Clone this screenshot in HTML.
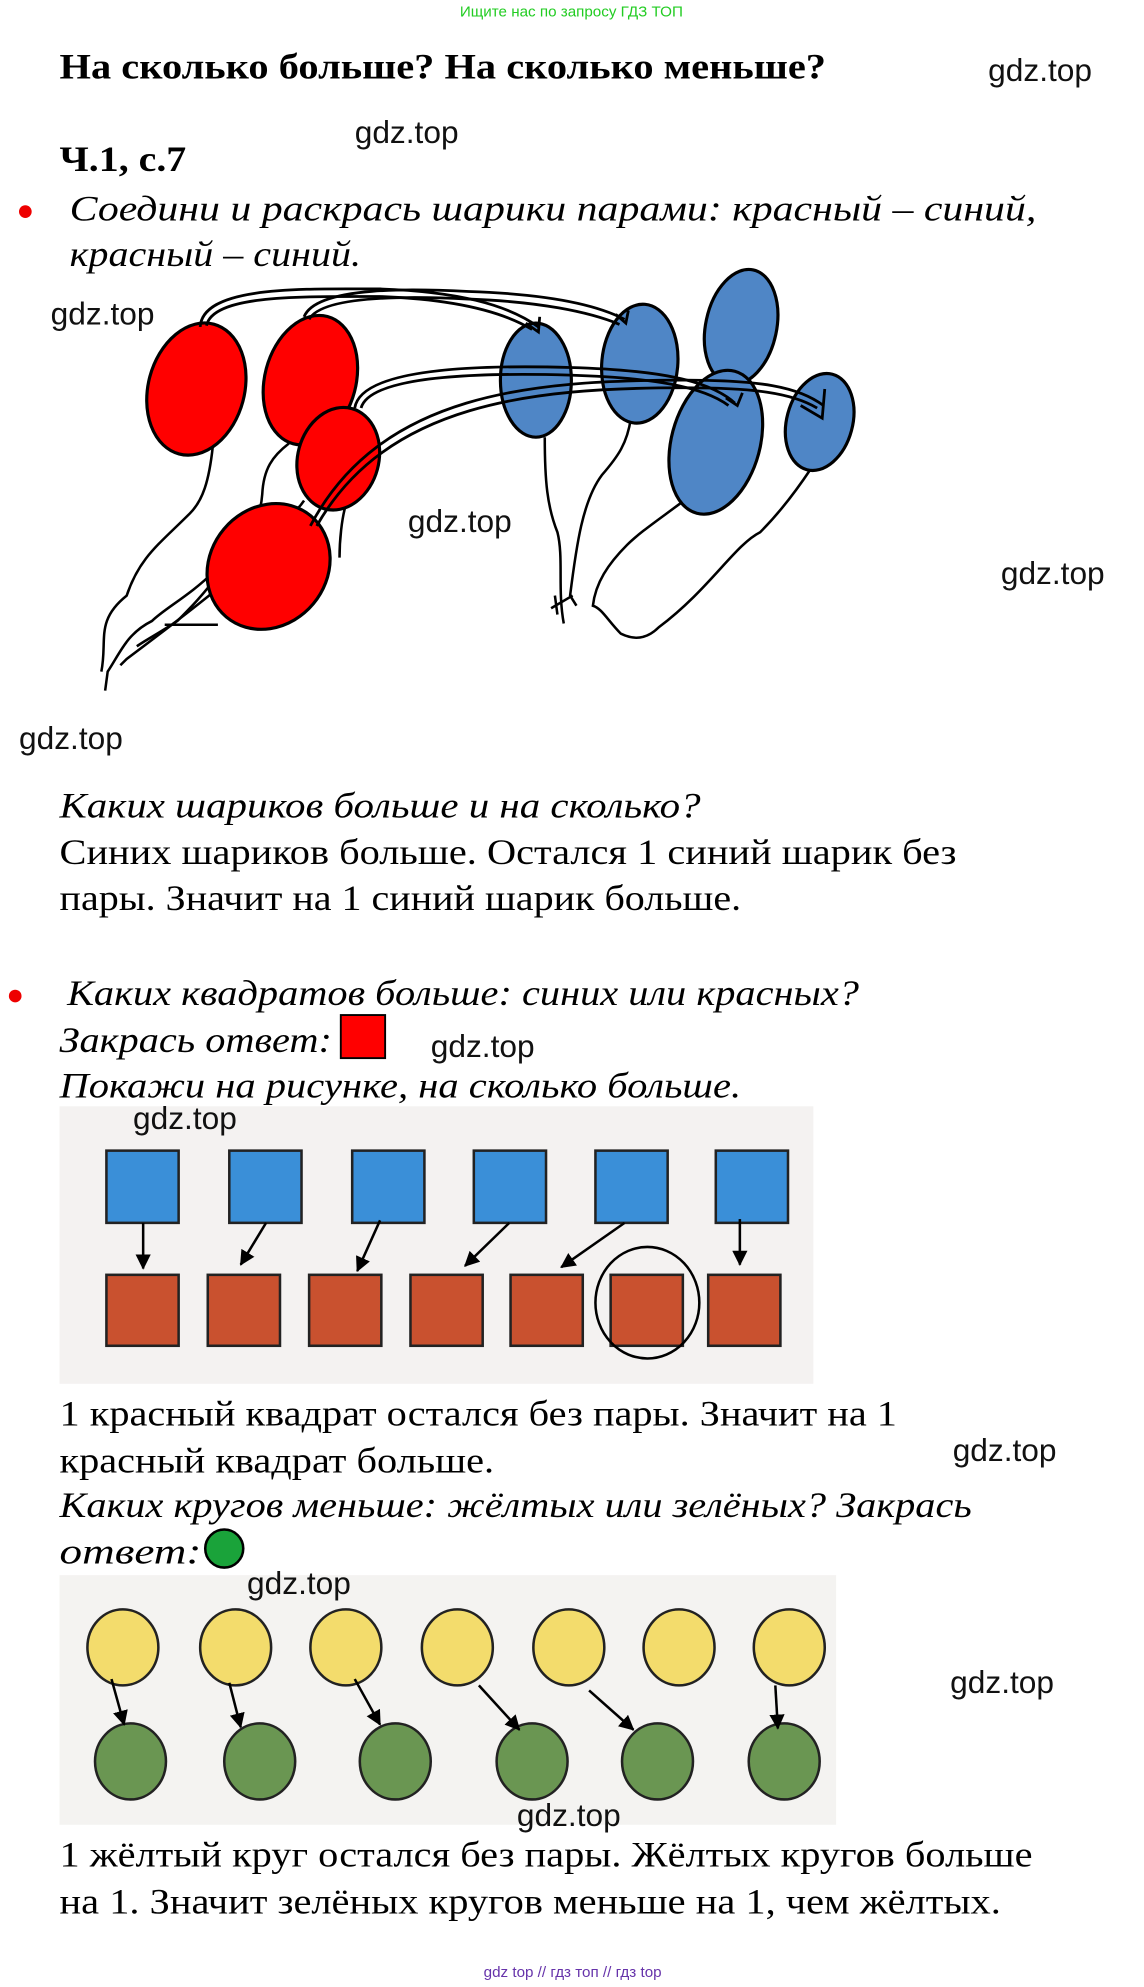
<!DOCTYPE html>
<html><head><meta charset="utf-8"><style>
html,body{margin:0;padding:0;background:#fff;}
svg{display:block;}
.s{font-family:"Liberation Serif",serif;font-size:28px;fill:#000;}
.i{font-style:italic;}
.w{font-family:"Liberation Sans",sans-serif;font-size:25px;fill:#111;}
</style></head><body>
<svg width="1144" height="1987" viewBox="0 0 903 1568" preserveAspectRatio="none" xmlns="http://www.w3.org/2000/svg">
<text x="451" y="13" text-anchor="middle" font-family="Liberation Sans,sans-serif" font-size="12" fill="#22cc22">Ищите нас по запросу ГДЗ ТОП</text>
<text class="s" x="47" y="62" font-weight="bold" font-size="26" textLength="605" lengthAdjust="spacingAndGlyphs">На сколько больше? На сколько меньше?</text>
<text class="w" x="780" y="64">gdz.top</text>
<text class="w" x="280" y="113">gdz.top</text>
<text class="s" x="47" y="135" font-weight="bold" font-size="27" textLength="100" lengthAdjust="spacingAndGlyphs">Ч.1, с.7</text>
<circle cx="20" cy="167" r="5" fill="#e00"/>
<text class="s i" x="55" y="174" textLength="763" lengthAdjust="spacingAndGlyphs">Соедини и раскрась шарики парами: красный – синий,</text>
<text class="s i" x="55" y="210" textLength="230" lengthAdjust="spacingAndGlyphs">красный – синий.</text>
<text class="w" x="40" y="256">gdz.top</text>
<text class="w" x="322" y="420">gdz.top</text>
<text class="w" x="790" y="461">gdz.top</text>
<text class="w" x="15" y="591">gdz.top</text>

<g fill="none" stroke="#000" stroke-width="2">
<path d="M168 352 C165 380 160 395 150 405 C125 430 110 440 100 470 C75 490 85 505 80 530"/>
<path d="M228 350 C215 360 208 370 207 390 C205 420 185 435 170 450 C150 470 130 480 120 490 C100 500 95 515 85 530 L83 545"/>
<path d="M240 395 C230 410 215 415 205 425 C190 440 180 455 165 470 C140 490 120 505 100 520 L95 525"/>
<path d="M262 398 L272 402 C270 410 268 425 268 440"/>
<path d="M175 450 C160 470 150 480 140 490 C125 500 115 505 108 510"/>
<path d="M130 493 L172 493"/>
<path d="M430 345 C430 380 432 400 440 420 C445 440 440 465 445 492"/>
<path d="M498 330 C495 350 488 360 475 375 C460 395 455 430 450 470 L455 478"/>
<path d="M540 395 C520 410 505 420 495 430 C480 445 470 460 468 478 C475 480 480 490 490 500 C500 505 510 505 520 495 C560 465 580 430 600 420 C615 405 630 385 640 370"/>
<path d="M435 480 L452 470 M440 485 L438 470"/>
</g>

<g fill="#f00" stroke="#000" stroke-width="2.5">
<ellipse cx="155" cy="307" rx="38" ry="53" transform="rotate(15 155 307)"/>
<ellipse cx="245" cy="300" rx="36" ry="52" transform="rotate(15 245 300)"/>
<ellipse cx="267" cy="362" rx="32" ry="41" transform="rotate(15 267 362)"/>
<ellipse cx="212" cy="447" rx="46" ry="52" transform="rotate(40 212 447)"/>
</g>
<g fill="#4f86c6" stroke="#000" stroke-width="2.5">
<ellipse cx="423" cy="300" rx="28" ry="45"/>
<ellipse cx="505" cy="287" rx="30" ry="47" transform="rotate(5 505 287)"/>
<ellipse cx="585" cy="258" rx="28" ry="46" transform="rotate(12 585 258)"/>
<ellipse cx="565" cy="349" rx="35" ry="58" transform="rotate(15 565 349)"/>
<ellipse cx="647" cy="333" rx="26" ry="39" transform="rotate(15 647 333)"/>
</g>

<g fill="none" stroke="#000" stroke-width="2.2">
<path d="M158 258 C160 225 240 228 300 228 C360 230 400 240 425 258"/>
<path d="M163 257 C168 232 240 234 300 234 C355 236 395 245 420 260"/>
<path d="M240 250 C250 225 330 228 370 230 C430 232 470 240 493 252"/>
<path d="M244 252 C255 232 330 234 370 236 C425 238 465 246 489 256"/>
<path d="M280 322 C285 290 380 288 450 290 C520 292 560 300 580 318"/>
<path d="M285 322 C292 296 380 294 450 296 C515 298 555 305 575 320"/>
<path d="M245 415 C300 310 420 300 540 300 C600 300 630 305 650 320"/>
<path d="M250 415 C305 318 420 306 540 306 C595 306 625 310 645 322"/>
<path d="M415 255 L425 262 L426 250"/>
<path d="M486 248 L494 255 L496 245"/>
<path d="M573 314 L582 320 L586 310"/>
<path d="M632 320 L649 330 L651 307"/>
</g>

<text class="s i" x="47" y="645" textLength="506" lengthAdjust="spacingAndGlyphs">Каких шариков больше и на сколько?</text>
<text class="s" x="47" y="682" textLength="708" lengthAdjust="spacingAndGlyphs">Синих шариков больше. Остался 1 синий шарик без</text>
<text class="s" x="47" y="718" textLength="538" lengthAdjust="spacingAndGlyphs">пары. Значит на 1 синий шарик больше.</text>

<circle cx="12" cy="786" r="5" fill="#e00"/>
<text class="s i" x="53" y="793" textLength="625" lengthAdjust="spacingAndGlyphs">Каких квадратов больше: синих или красных?</text>
<text class="s i" x="47" y="830" textLength="215" lengthAdjust="spacingAndGlyphs">Закрась ответ:</text>
<rect x="269" y="801" width="35" height="34" fill="#f00" stroke="#000" stroke-width="1.5"/>
<text class="w" x="340" y="834">gdz.top</text>
<text class="s i" x="47" y="866" textLength="538" lengthAdjust="spacingAndGlyphs">Покажи на рисунке, на сколько больше.</text>

<rect x="47" y="873" width="595" height="219" fill="#f4f2f1"/>
<text class="w" x="105" y="891">gdz.top</text>
<g fill="#3a8fd8" stroke="#222" stroke-width="2">
<rect x="84" y="908" width="57" height="57"/><rect x="181" y="908" width="57" height="57"/>
<rect x="278" y="908" width="57" height="57"/><rect x="374" y="908" width="57" height="57"/>
<rect x="470" y="908" width="57" height="57"/><rect x="565" y="908" width="57" height="57"/>
</g>
<g fill="#c9512f" stroke="#222" stroke-width="2">
<rect x="84" y="1006" width="57" height="56"/><rect x="164" y="1006" width="57" height="56"/>
<rect x="244" y="1006" width="57" height="56"/><rect x="324" y="1006" width="57" height="56"/>
<rect x="403" y="1006" width="57" height="56"/><rect x="482" y="1006" width="57" height="56"/>
<rect x="559" y="1006" width="57" height="56"/>
</g>
<ellipse cx="511" cy="1028" rx="41" ry="44" fill="none" stroke="#000" stroke-width="2"/>
<defs><marker id="b" markerWidth="12" markerHeight="12" refX="11" refY="6" orient="auto" markerUnits="userSpaceOnUse"><path d="M0 0 L12 6 L0 12z" fill="#000"/></marker></defs>
<g stroke="#000" stroke-width="2" marker-end="url(#b)">
<line x1="113" y1="965" x2="113" y2="1001"/><line x1="210" y1="965" x2="190" y2="998"/>
<line x1="300" y1="963" x2="282" y2="1003"/><line x1="402" y1="965" x2="367" y2="999"/>
<line x1="493" y1="965" x2="443" y2="1000"/><line x1="584" y1="962" x2="584" y2="998"/>
</g>

<text class="s" x="47" y="1125" textLength="661" lengthAdjust="spacingAndGlyphs">1 красный квадрат остался без пары. Значит на 1</text>
<text class="s" x="47" y="1162" textLength="343" lengthAdjust="spacingAndGlyphs">красный квадрат больше.</text>
<text class="w" x="752" y="1153">gdz.top</text>
<text class="s i" x="47" y="1197" textLength="720" lengthAdjust="spacingAndGlyphs">Каких кругов меньше: жёлтых или зелёных? Закрась</text>
<text class="s i" x="47" y="1234" textLength="112" lengthAdjust="spacingAndGlyphs">ответ:</text>
<circle cx="177" cy="1222" r="15" fill="#1aa33a" stroke="#000" stroke-width="2"/>

<rect x="47" y="1243" width="613" height="197" fill="#f4f3f1"/>
<text class="w" x="195" y="1258">gdz.top</text>
<g fill="#f3dc6c" stroke="#222" stroke-width="2">
<ellipse cx="97" cy="1300" rx="28" ry="30"/><ellipse cx="186" cy="1300" rx="28" ry="30"/>
<ellipse cx="273" cy="1300" rx="28" ry="30"/><ellipse cx="361" cy="1300" rx="28" ry="30"/>
<ellipse cx="449" cy="1300" rx="28" ry="30"/><ellipse cx="536" cy="1300" rx="28" ry="30"/>
<ellipse cx="623" cy="1300" rx="28" ry="30"/>
</g>
<g fill="#6a9652" stroke="#222" stroke-width="2">
<ellipse cx="103" cy="1390" rx="28" ry="30"/><ellipse cx="205" cy="1390" rx="28" ry="30"/>
<ellipse cx="312" cy="1390" rx="28" ry="30"/><ellipse cx="420" cy="1390" rx="28" ry="30"/>
<ellipse cx="519" cy="1390" rx="28" ry="30"/><ellipse cx="619" cy="1390" rx="28" ry="30"/>
</g>
<g stroke="#000" stroke-width="2" marker-end="url(#b)">
<line x1="88" y1="1325" x2="98" y2="1361"/><line x1="181" y1="1328" x2="190" y2="1363"/>
<line x1="280" y1="1325" x2="300" y2="1361"/><line x1="378" y1="1330" x2="410" y2="1365"/>
<line x1="465" y1="1334" x2="500" y2="1365"/><line x1="612" y1="1330" x2="614" y2="1364"/>
</g>
<text class="w" x="750" y="1336">gdz.top</text>
<text class="w" x="408" y="1441" font-size="16">gdz.top</text>

<text class="s" x="47" y="1473" textLength="768" lengthAdjust="spacingAndGlyphs">1 жёлтый круг остался без пары. Жёлтых кругов больше</text>
<text class="s" x="47" y="1510" textLength="743" lengthAdjust="spacingAndGlyphs">на 1. Значит зелёных кругов меньше на 1, чем жёлтых.</text>
<text x="452" y="1560" text-anchor="middle" font-family="Liberation Sans,sans-serif" font-size="12" fill="#6633aa">gdz top  //  гдз топ  //  гдз top</text>
</svg>
</body></html>
